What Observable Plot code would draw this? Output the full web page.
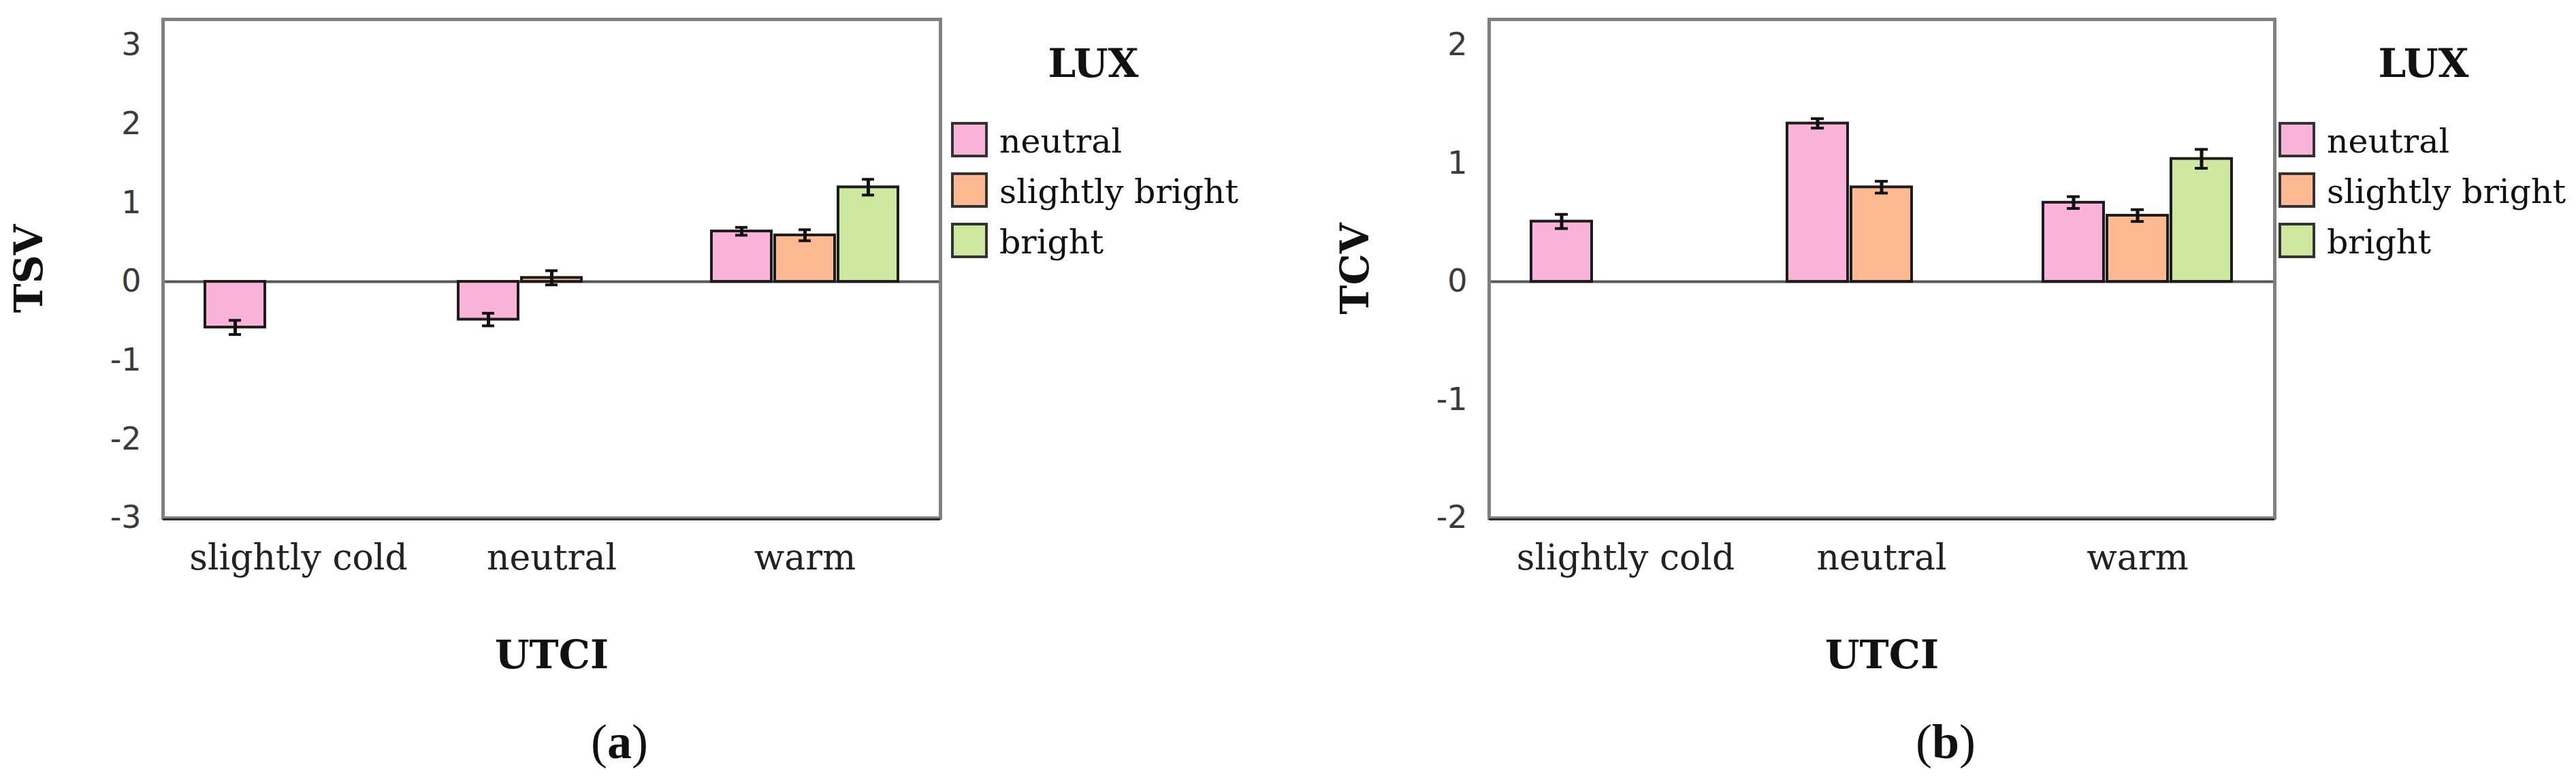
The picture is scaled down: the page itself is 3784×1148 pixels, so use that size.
<!DOCTYPE html>
<html>
<head>
<meta charset="utf-8">
<script src="https://cdn.jsdelivr.net/npm/d3@7"></script>
<script src="https://cdn.jsdelivr.net/npm/@observablehq/plot@0.6"></script>
<style>
  html, body { margin: 0; padding: 0; background: #fff; }
  #root { position: relative; width: 3784px; height: 1148px; overflow: hidden; background: #fff; }
  #root > svg { position: absolute; top: 0; }
</style>
</head>
<body>
<div id="root"></div>
<script>
// ---- categories ----
const utci = ["slightly cold", "neutral", "warm"];
const lux = ["neutral", "slightly bright", "bright"];
const luxColors = ["#f9b3d9", "#fdba92", "#cde89e"];

// ---- (a) TSV: mean by LUX level, one value per UTCI category (null = no data) ----
const tsvNeutral        = [-0.58, -0.48, 0.64];
const tsvSlightlyBright = [null,   0.05, 0.59];
const tsvBright         = [null,   null, 1.20];
const tsvErrNeutral        = [0.09, 0.08, 0.05];
const tsvErrSlightlyBright = [null, 0.09, 0.07];
const tsvErrBright         = [null, null, 0.10];
const tsvTicks = [-3, -2, -1, 0, 1, 2, 3];
const tsvDomain = [-3, 3.33];

// ---- (b) TCV ----
const tcvNeutral        = [0.51, 1.34, 0.67];
const tcvSlightlyBright = [null, 0.80, 0.56];
const tcvBright         = [null, null, 1.04];
const tcvErrNeutral        = [0.06, 0.04, 0.05];
const tcvErrSlightlyBright = [null, 0.05, 0.05];
const tcvErrBright         = [null, null, 0.08];
const tcvTicks = [-2, -1, 0, 1, 2];
const tcvDomain = [-2, 2.22];

const root = document.getElementById("root");

function buildRows(means, errs) {
  const rows = [];
  utci.forEach((u, i) => lux.forEach((l, j) => {
    const v = means[j][i];
    if (v == null) return;
    const e = errs[j][i];
    rows.push({key: `${u}|${l}`, utci: u, lux: l, value: v, lo: v - e, hi: v + e});
  }));
  return rows;
}

const xKeys = [];
utci.forEach((u, i) => {
  if (i > 0) xKeys.push(`gap${i}`);
  lux.forEach(l => xKeys.push(`${u}|${l}`));
});
const tickKeys = utci.map(u => `${u}|${lux[1]}`);

function panel({rows, domain, ticks, label, left, width, marginLeft}) {
  const plot = Plot.plot({
    width, height: 1148,
    marginLeft, marginRight: 14, marginTop: 28, marginBottom: 388,
    style: {background: "transparent", overflow: "visible", maxWidth: "none"},
    x: {type: "band", domain: xKeys, paddingInner: 0.05, paddingOuter: 0.64},
    y: {domain},
    color: {domain: lux, range: luxColors},
    marks: [
      Plot.ruleY([0], {stroke: "#585858", strokeWidth: 4}),
      Plot.barY(rows, {x: "key", y: "value", fill: "lux", stroke: "#1c1c1c", strokeWidth: 4}),
      Plot.ruleX(rows, {x: "key", y1: "lo", y2: "hi", stroke: "#111", strokeWidth: 5}),
      Plot.tickY(rows, {x: "key", y: "lo", stroke: "#111", strokeWidth: 4, insetLeft: 35, insetRight: 35}),
      Plot.tickY(rows, {x: "key", y: "hi", stroke: "#111", strokeWidth: 4, insetLeft: 35, insetRight: 35}),
      Plot.frame({stroke: "#808080", strokeWidth: 5}),
      Plot.ruleY([domain[0]], {stroke: "#2b2b2b", strokeWidth: 3, dy: 2}),
      Plot.axisY({ticks, tickFormat: d => String(d), tickSize: 0, tickPadding: 32, fontSize: 46,
                  fontFamily: "DejaVu Sans", color: "#3a3a3a", label: null}),
      Plot.axisX({ticks: tickKeys, tickFormat: k => k.split("|")[0], tickSize: 0, tickPadding: 39,
                  fontSize: 52, fontFamily: "DejaVu Serif", color: "#222", label: null}),
      Plot.text([label], {frameAnchor: "left", dx: -196, rotate: -90, textAnchor: "middle", lineAnchor: "middle",
                  fontSize: 58, fontWeight: "bold", fontFamily: "DejaVu Serif", fill: "#111"}),
      Plot.text(["UTCI"], {frameAnchor: "bottom", dy: 202, textAnchor: "middle", lineAnchor: "middle",
                  fontSize: 58, fontWeight: "bold", fontFamily: "DejaVu Serif", fill: "#111"})
    ]
  });
  plot.style.left = left + "px";
  root.appendChild(plot);
  return plot;
}

panel({
  rows: buildRows([tsvNeutral, tsvSlightlyBright, tsvBright], [tsvErrNeutral, tsvErrSlightlyBright, tsvErrBright]),
  domain: tsvDomain, ticks: tsvTicks, label: "TSV", left: 0, width: 1395, marginLeft: 239
});
panel({
  rows: buildRows([tcvNeutral, tcvSlightlyBright, tcvBright], [tcvErrNeutral, tcvErrSlightlyBright, tcvErrBright]),
  domain: tcvDomain, ticks: tcvTicks, label: "TCV", left: 1900, width: 1455, marginLeft: 287
});

// ---- legends and captions overlay ----
const overlay = d3.create("svg")
  .attr("width", 3784).attr("height", 1148)
  .style("left", "0px").style("pointer-events", "none");

const legends = [{x0: 1399, titleX: 1606}, {x0: 3349, titleX: 3560}];
legends.forEach(({x0, titleX}) => {
  overlay.append("text").attr("x", titleX).attr("y", 113)
    .attr("text-anchor", "middle").attr("font-family", "DejaVu Serif").attr("font-weight", "bold")
    .attr("font-size", 58).attr("fill", "#111").text("LUX");
  lux.forEach((l, i) => {
    const top = 181 + i * 74;
    overlay.append("rect").attr("x", x0).attr("y", top).attr("width", 50).attr("height", 48)
      .attr("fill", luxColors[i]).attr("stroke", "#333").attr("stroke-width", 4);
    overlay.append("text").attr("x", x0 + 69).attr("y", top + 43)
      .attr("font-family", "DejaVu Serif").attr("font-size", 49).attr("fill", "#111").text(l);
  });
});

const captions = [{x: 910, letter: "a"}, {x: 2858, letter: "b"}];
captions.forEach(({x, letter}) => {
  const t = overlay.append("text").attr("x", x).attr("y", 1113).attr("text-anchor", "middle")
    .attr("font-family", "Liberation Serif").attr("font-size", 72).attr("fill", "#111");
  t.append("tspan").text("(");
  t.append("tspan").attr("font-weight", "bold").text(letter);
  t.append("tspan").text(")");
});

root.appendChild(overlay.node());
</script>
</body>
</html>
